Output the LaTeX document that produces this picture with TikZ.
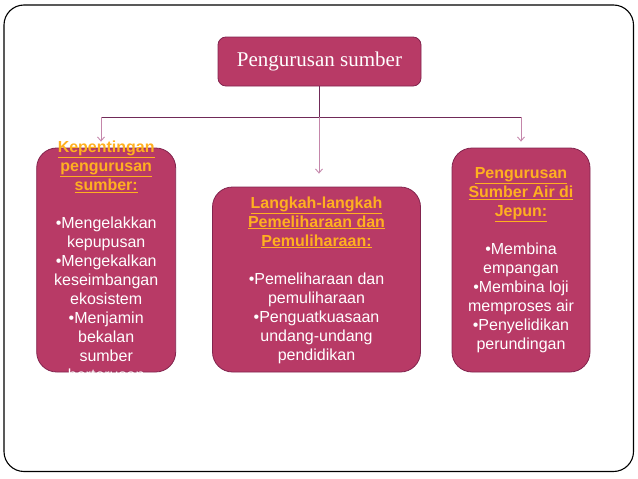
\documentclass[tikz,border=0pt]{standalone}
\usepackage{fontspec}
\setmainfont{Liberation Serif}
\newfontfamily\arial{Liberation Sans}
\usetikzlibrary{arrows.meta,positioning}
\definecolor{boxfill}{RGB}{184,58,102}
\definecolor{boxline}{RGB}{130,36,78}
\definecolor{darkline}{RGB}{112,42,88}
\definecolor{dropline}{RGB}{196,134,170}
\definecolor{headcol}{RGB}{255,176,32}
\tikzset{
  framebox/.style={draw=black,line width=1.1pt,rounded corners=20pt},
  topbox/.style={draw=boxline,fill=boxfill,line width=0.8pt,rounded corners=8pt,
    minimum width=203pt,minimum height=49pt,inner sep=0pt,text=white,
    font=\fontsize{21}{24}\selectfont},
  bigbox/.style={draw=boxline,fill=boxfill,line width=0.8pt,rounded corners=20pt,inner sep=0pt},
  boxtext/.style={align=center,text=white,inner sep=0pt,font=\arial\fontsize{16}{19}\selectfont},
  joinline/.style={draw=darkline,line width=0.9pt},
  dropline/.style={draw=dropline,line width=0.9pt,-{Straight Barb[length=4pt,width=7pt]}},
}
\newcommand{\hd}[1]{\textcolor{headcol}{\textbf{\underline{#1}}}}
\begin{document}
\begin{tikzpicture}[x=1pt,y=-1pt]
\useasboundingbox (0,0) rectangle (638,479);
\draw[framebox] (4,5) rectangle (633.5,471.5);
\node[topbox] (top) at (319.5,61.5) {Pengurusan sumber};
\node[bigbox,minimum width=139pt,minimum height=224pt] (left) at (106.2,260) {};
\node[bigbox,minimum width=208pt,minimum height=185pt] (mid) at (316.5,279.5) {};
\node[bigbox,minimum width=138pt,minimum height=224pt] (right) at (521,260) {};
\node[boxtext] (lefttext) at (106.2,261) {\hd{Kepentingan}\\\hd{pengurusan}\\\hd{sumber:}\\[19pt]
  •Mengelakkan\\kepupusan\\•Mengekalkan\\keseimbangan\\ekosistem\\•Menjamin\\bekalan\\sumber\\berterusan};
\node[boxtext] (midtext) at (316.5,280) {\hd{Langkah-langkah}\\\hd{Pemeliharaan dan}\\\hd{Pemuliharaan:}\\[19pt]
  •Pemeliharaan dan\\pemuliharaan\\•Penguatkuasaan\\undang-undang\\pendidikan};
\node[boxtext] (righttext) at (521,260.5) {\hd{Pengurusan}\\\hd{Sumber Air di}\\\hd{Jepun:}\\[19pt]
  •Membina\\empangan\\•Membina loji\\memproses air\\•Penyelidikan\\perundingan};
\coordinate (j) at (319,117);
\coordinate (jl) at (101,117);
\coordinate (jr) at (521,117);
\draw[joinline] (top.south -| j) -- (j);
\draw[joinline] (jl) -- (jr);
\draw[dropline,shorten >=6pt] (jl) -- (jl |- left.north);
\draw[dropline,shorten >=13pt] (j) -- (j |- mid.north);
\draw[dropline,shorten >=6pt] (jr) -- (jr |- right.north);
\end{tikzpicture}
\end{document}
